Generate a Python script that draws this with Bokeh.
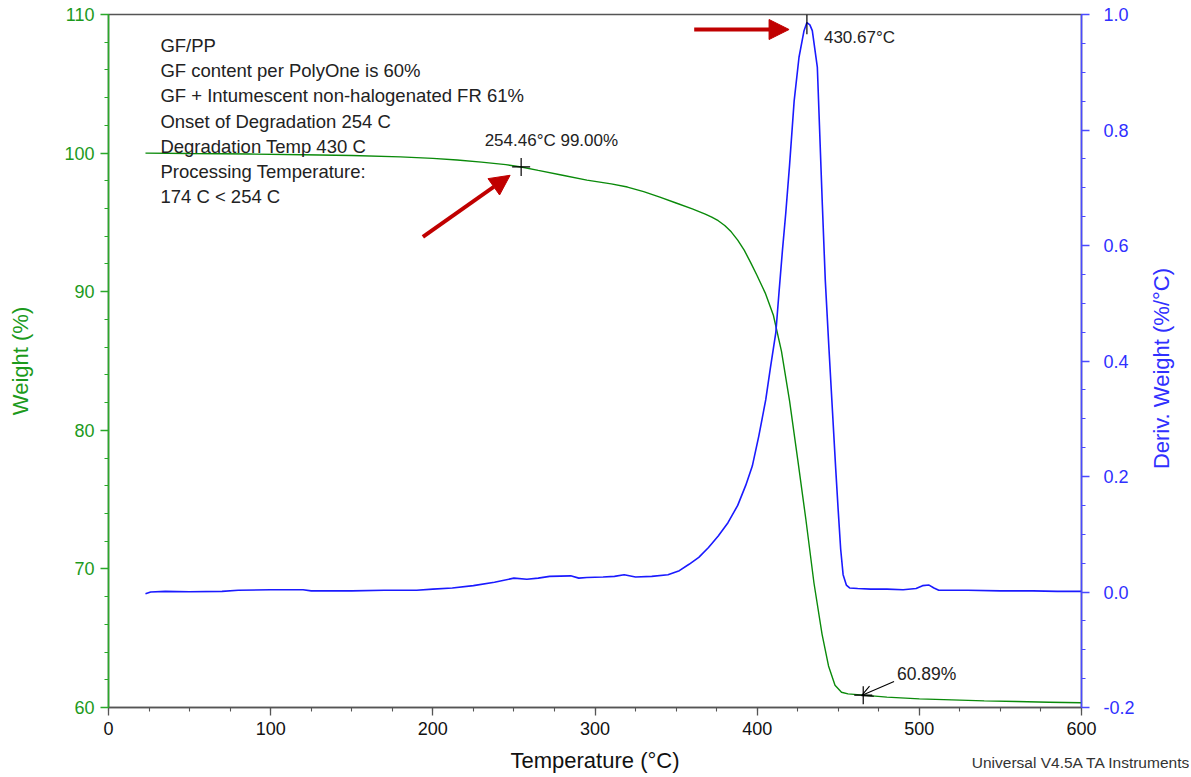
import math
from bokeh.plotting import figure
from bokeh.models import (Range1d, LinearAxis, Label, Arrow, NormalHead, OpenHead,
                          SingleIntervalTicker, FixedTicker, PrintfTickFormatter)
from bokeh.embed import file_html
from bokeh.resources import INLINE

# ---------------- data ----------------
temp_w = [22.8, 50, 87, 120, 150, 180, 200, 215, 230, 245, 254.46, 265, 280, 295, 310,
          320, 330, 340, 350, 360, 368, 372, 376, 380, 384, 388, 392, 396, 400, 405,
          410, 415, 420, 425, 430, 435, 440, 444, 448, 452, 456, 465.4, 480, 500, 520,
          540, 560, 580, 600]
weight = [100.0, 99.97, 99.93, 99.88, 99.83, 99.73, 99.62, 99.5, 99.35, 99.17, 99.0,
          98.75, 98.4, 98.05, 97.78, 97.55, 97.22, 96.82, 96.4, 95.98, 95.6, 95.38,
          95.12, 94.78, 94.32, 93.72, 93.0, 92.1, 91.15, 89.9, 88.3, 85.7, 82.1, 77.9,
          73.6, 69.0, 65.3, 63.0, 61.6, 61.1, 60.98, 60.89, 60.75, 60.62, 60.55, 60.48,
          60.43, 60.38, 60.34]

temp_d = [22.8, 26, 35, 50, 70, 80, 100, 120, 125, 150, 170, 190, 200, 212, 225, 238,
          250, 258, 265, 272, 285, 290, 295, 305, 312, 318, 325, 335, 345, 352, 358,
          364, 370, 376, 382, 388, 393, 397, 401, 405.3, 408, 411.5, 413.5, 415.6,
          417.6, 420, 422.8, 425.8, 428.9, 430.67, 432.5, 434, 437.1, 440.2, 442,
          444.3, 446.5, 448.4, 450, 451.5, 453, 455, 457, 462, 470, 480, 490, 498,
          502, 506, 509, 512, 530, 550, 570, 585, 600]
deriv = [-0.003, 0.000, 0.001, 0.0005, 0.001, 0.003, 0.004, 0.004, 0.002, 0.002,
         0.003, 0.003, 0.005, 0.007, 0.011, 0.017, 0.024, 0.022, 0.024, 0.027, 0.028,
         0.024, 0.025, 0.026, 0.027, 0.030, 0.026, 0.027, 0.030, 0.037, 0.048, 0.060,
         0.077, 0.097, 0.120, 0.150, 0.185, 0.218, 0.270, 0.333, 0.385, 0.449, 0.52,
         0.592, 0.655, 0.74, 0.85, 0.926, 0.972, 0.986, 0.982, 0.972, 0.909, 0.67,
         0.54, 0.42, 0.31, 0.215, 0.14, 0.074, 0.030, 0.012, 0.007, 0.006, 0.005,
         0.005, 0.004, 0.006, 0.011, 0.012, 0.007, 0.003, 0.003, 0.002, 0.002, 0.001,
         0.001]

onset_t = [254.46]
onset_w = [99.00]
peak_t = [430.67]
peak_d = [0.986]
resid_t = [465.4]
resid_w = [60.89]

notes = ["GF/PP",
         "GF content per PolyOne is 60%",
         "GF + Intumescent non-halogenated FR 61%",
         "Onset of Degradation 254 C",
         "Degradation Temp 430 C",
         "Processing Temperature:",
         "174 C < 254 C"]
# --------------------------------------

FONT = "Liberation Sans"
GREEN_LINE = "#0a8a0a"
GREEN_AX = "#2aa82a"
GREEN_TXT = "#1c9a1c"
BLUE_LINE = "#1a1aff"
BLUE_AX = "#4a4aff"
RED = "#c00000"
TXT = "#222222"

W, H = 1189, 775
p = figure(width=W, height=H, x_range=Range1d(0, 600), y_range=Range1d(60, 110),
           output_backend="svg", toolbar_location=None,
           min_border_left=108, min_border_right=106, min_border_top=14,
           min_border_bottom=66)
p.extra_y_ranges = {"deriv": Range1d(-0.2, 1.0)}
p.xgrid.visible = False
p.ygrid.visible = False
p.outline_line_color = "#555555"
p.outline_line_width = 1.5
p.background_fill_color = "white"
p.border_fill_color = "white"

def style_axis(ax, color, txtcolor, label_size="22px"):
    ax.axis_line_color = color
    ax.axis_line_width = 1.6
    ax.major_tick_line_color = color
    ax.minor_tick_line_color = color
    ax.major_tick_line_width = 1.3
    ax.minor_tick_line_width = 1.1
    ax.major_tick_out = 8
    ax.major_tick_in = 0
    ax.minor_tick_out = 4
    ax.minor_tick_in = 0
    ax.major_label_text_color = txtcolor
    ax.major_label_text_font = FONT
    ax.major_label_text_font_size = "18px"
    ax.axis_label_text_color = txtcolor
    ax.axis_label_text_font = FONT
    ax.axis_label_text_font_size = label_size
    ax.axis_label_text_font_style = "normal"

# bottom axis
xa = p.xaxis[0]
xa.ticker = SingleIntervalTicker(interval=100, num_minor_ticks=4)
xa.axis_label = "Temperature (°C)"
style_axis(xa, "#555555", "#111111")
xa.major_label_standoff = 6
xa.axis_label_standoff = 10

# software credit: a bare axis below whose label sits beside the x title
ca = LinearAxis(ticker=FixedTicker(ticks=[]),
                axis_label="Universal V4.5A TA Instruments")
ca.axis_line_color = None
ca.major_tick_line_color = None
ca.minor_tick_line_color = None
ca.major_tick_out = 0
ca.minor_tick_out = 0
ca.major_label_text_font_size = "0px"
ca.axis_label_text_font = FONT
ca.axis_label_text_font_size = "15.5px"
ca.axis_label_text_font_style = "normal"
ca.axis_label_text_color = "#333333"
ca.axis_label_standoff = -22
ca.axis_label_align = "end"
p.add_layout(ca, "below")

# left axis
ya = p.yaxis[0]
ya.ticker = SingleIntervalTicker(interval=10, num_minor_ticks=5)
ya.axis_label = "Weight (%)"
style_axis(ya, GREEN_AX, GREEN_TXT)
ya.major_label_standoff = 6
ya.axis_label_standoff = 28

# right axis (title reads bottom-to-top, anchored at the bottom and padded up)
NB = "\u00a0"
ra = LinearAxis(y_range_name="deriv", axis_label=NB * 39 + "Deriv. Weight (%/°C)",
                ticker=SingleIntervalTicker(interval=0.2, num_minor_ticks=4),
                formatter=PrintfTickFormatter(format="%.1f"))
style_axis(ra, BLUE_AX, "#3030ff")
ra.major_label_standoff = 14
ra.axis_label_standoff = 24
ra.axis_label_orientation = math.pi / 2
ra.axis_label_align = "start"
p.add_layout(ra, "right")

# curves
p.line(temp_w, weight, line_color=GREEN_LINE, line_width=1.4)
p.line(temp_d, deriv, line_color=BLUE_LINE, line_width=1.6, y_range_name="deriv")

# markers
p.scatter(onset_t, onset_w, marker="cross", size=18, line_color="black", line_width=1.2)
p.scatter(resid_t, resid_w, marker="cross", size=18, line_color="black", line_width=1.2)
p.segment(x0=peak_t, y0=[1.0], x1=peak_t, y1=[d - 0.02 for d in peak_d],
          line_color="black", line_width=1.2, y_range_name="deriv")

# annotation labels
p.add_layout(Label(x=onset_t[0] - 22.5, y=onset_w[0] + 1.94,
                   text=f"{onset_t[0]:.2f}°C {onset_w[0]:.2f}%",
                   text_font=FONT, text_font_size="17px", text_color=TXT,
                   text_baseline="middle"))
p.add_layout(Label(x=peak_t[0] + 10.5, y=peak_d[0] - 0.026, y_range_name="deriv",
                   text=f"{peak_t[0]:.2f}°C",
                   text_font=FONT, text_font_size="17px", text_color=TXT,
                   text_baseline="middle"))
p.add_layout(Label(x=resid_t[0] + 20.8, y=resid_w[0] + 1.56,
                   text=f"{resid_w[0]:.2f}%",
                   text_font=FONT, text_font_size="17.5px", text_color=TXT,
                   text_baseline="middle"))

# residue arrow (black open)
p.add_layout(Arrow(end=OpenHead(size=11, line_color="black", line_width=1.1),
                   x_start=resid_t[0] + 19, y_start=resid_w[0] + 0.98,
                   x_end=resid_t[0] - 1, y_end=resid_w[0] - 0.03,
                   line_color="black", line_width=1.1))

# red arrows
p.add_layout(Arrow(end=NormalHead(size=20, fill_color=RED, line_color=RED),
                   x_start=onset_t[0] - 60.6, y_start=onset_w[0] - 5.05,
                   x_end=onset_t[0] - 6.8, y_end=onset_w[0] - 0.6,
                   line_color=RED, line_width=4))
p.add_layout(Arrow(end=NormalHead(size=20, fill_color=RED, line_color=RED),
                   x_start=peak_t[0] - 69.5, y_start=0.974,
                   x_end=peak_t[0] - 11, y_end=0.974, y_range_name="deriv",
                   line_color=RED, line_width=4))

# notes block
for i, line in enumerate(notes):
    p.add_layout(Label(x=32, y=107.75 - i * 1.815, text=line,
                       text_font=FONT, text_font_size="18.5px", text_color=TXT,
                       text_baseline="middle"))

open("out.html", "w").write(file_html(p, INLINE))
